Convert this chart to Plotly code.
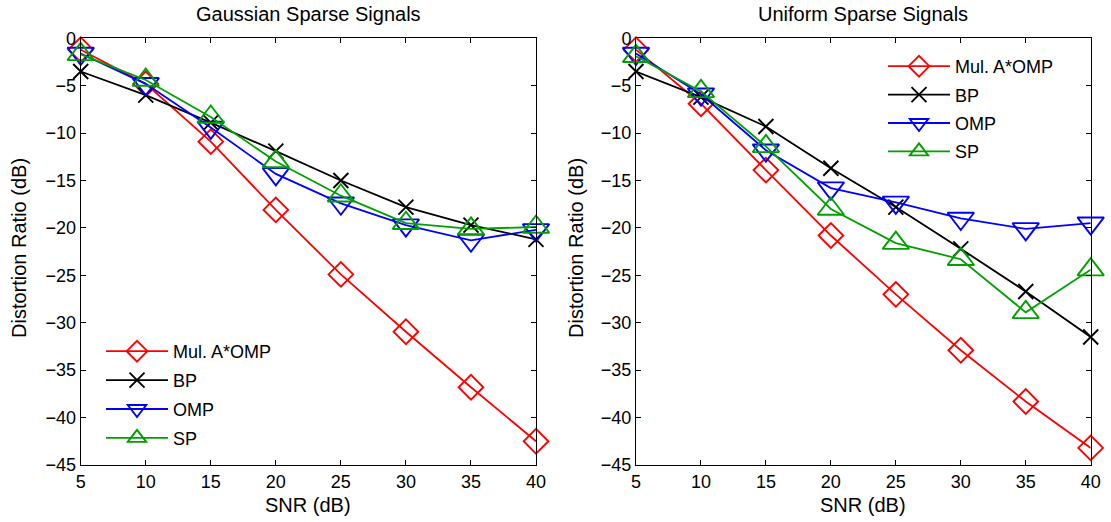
import plotly.graph_objects as go

snr = [5, 10, 15, 20, 25, 30, 35, 40]

# Gaussian sparse signals
g_astar = [-1.2, -4.8, -10.9, -18.1, -24.9, -30.95, -36.8, -42.5]
g_bp = [-3.5, -6.0, -8.9, -11.9, -15.0, -17.8, -19.7, -21.2]
g_omp = [-1.6, -4.8, -9.4, -14.3, -17.4, -19.7, -21.3, -20.2]
g_sp = [-1.7, -4.4, -8.3, -13.0, -16.6, -19.5, -20.1, -19.9]

# Uniform sparse signals
u_astar = [-1.2, -6.9, -13.9, -20.8, -27.0, -32.9, -38.3, -43.2]
u_bp = [-3.5, -6.2, -9.3, -13.7, -17.8, -22.2, -26.7, -31.5]
u_omp = [-1.6, -5.9, -11.8, -15.8, -17.3, -19.0, -20.1, -19.5]
u_sp = [-1.9, -5.6, -11.4, -18.0, -21.6, -23.3, -28.9, -24.4]

names = ["Mul. A*OMP", "BP", "OMP", "SP"]
colors = ["#ff0000", "#000000", "#0000ff", "#00a000"]
symbols = ["diamond-open", "x-thin-open", "triangle-down-open", "triangle-up-open"]
sizes = [19, 15, 23, 23]

yticks = [0, -5, -10, -15, -20, -25, -30, -35, -40, -45]
xticks = snr

W, H = 1111, 522
FONT = "Liberation Sans, Arial, sans-serif"

fig = go.Figure()

panels = [
    ([g_astar, g_bp, g_omp, g_sp], "x", "y", "legend", "g"),
    ([u_astar, u_bp, u_omp, u_sp], "x2", "y2", "legend2", "u"),
]
for series, xa, ya, lg, pre in panels:
    for vals, nm, c, s, sz in zip(series, names, colors, symbols, sizes):
        fig.add_trace(go.Scatter(
            x=snr, y=vals, name=nm, mode="lines+markers",
            line=dict(color=c, width=1.8),
            marker=dict(symbol=s, size=sz, color=c, line=dict(color=c, width=1.9)),
            xaxis=xa, yaxis=ya, legend=lg, legendgroup=pre + nm, cliponaxis=False,
        ))

def xdom(a, b):
    return [a / W, b / W]

def ydom(top, bot):
    return [1 - bot / H, 1 - top / H]

axis_common = dict(
    showline=True, linecolor="black", linewidth=1, mirror="ticks",
    ticks="inside", ticklen=5, tickcolor="black", showgrid=False, zeroline=False,
    tickfont=dict(family=FONT, size=18, color="black"), automargin=False,
)

fig.update_layout(
    width=W, height=H,
    margin=dict(l=0, r=0, t=0, b=0),
    paper_bgcolor="white", plot_bgcolor="white",
    font=dict(family=FONT, size=18, color="black"),
    showlegend=True,
    xaxis=dict(domain=xdom(80.7, 536), range=[5, 40], tickvals=xticks, anchor="y", **axis_common),
    yaxis=dict(domain=ydom(38.3, 465), range=[-45, 0], tickvals=yticks, anchor="x", **axis_common),
    xaxis2=dict(domain=xdom(636, 1090.7), range=[5, 40], tickvals=xticks, anchor="y2", **axis_common),
    yaxis2=dict(domain=ydom(38.3, 465), range=[-45, 0], tickvals=yticks, anchor="x2", **axis_common),
    legend=dict(x=101 / W, y=1 - 333 / H, xanchor="left", yanchor="top",
                bgcolor="rgba(255,255,255,0)", borderwidth=0, itemwidth=62,
                font=dict(family=FONT, size=18), tracegroupgap=2.5),
    legend2=dict(x=883 / W, y=1 - 48 / H, xanchor="left", yanchor="top",
                 bgcolor="rgba(255,255,255,0)", borderwidth=0, itemwidth=62,
                 font=dict(family=FONT, size=18), tracegroupgap=2),
)

annots = [
    ("Gaussian Sparse Signals", 308, 14, 0),
    ("Uniform Sparse Signals", 863, 14, 0),
    ("SNR (dB)", 308, 505, 0),
    ("SNR (dB)", 863, 505, 0),
    ("Distortion Ratio (dB)", 19, 248, -90),
    ("Distortion Ratio (dB)", 576, 248, -90),
]
for txt, px, py, ang in annots:
    fig.add_annotation(text=txt, x=px / W, y=1 - py / H, xref="paper", yref="paper",
                       showarrow=False, textangle=ang, xanchor="center", yanchor="middle",
                       font=dict(family=FONT, size=20, color="black"))

fig.write_html("out.html", config={"displayModeBar": False},
               post_script="document.body.style.margin='0px';")
